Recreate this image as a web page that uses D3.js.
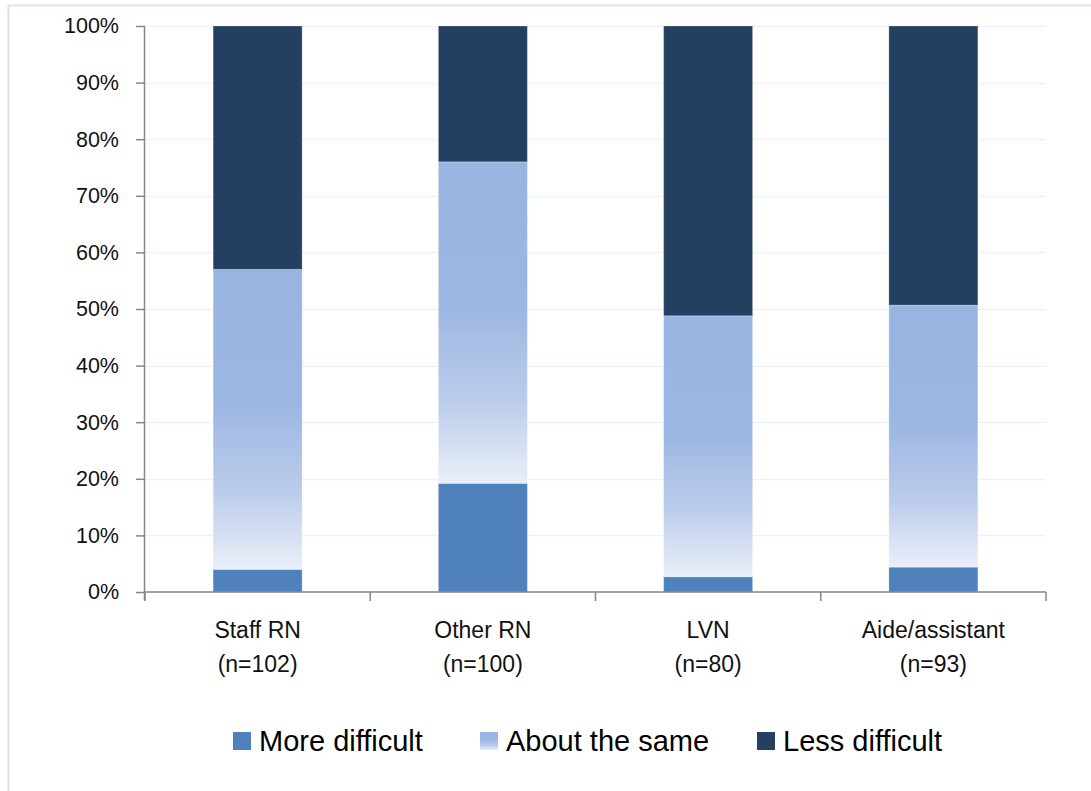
<!DOCTYPE html>
<html>
<head>
<meta charset="utf-8">
<script src="https://cdn.jsdelivr.net/npm/d3@7/dist/d3.min.js"></script>
<style>
  body { margin: 0; background: #fff; }
  svg { display: block; font-family: "Liberation Sans", Arial, sans-serif; }
</style>
</head>
<body>
<div id="chart"></div>
<script>
// data
const categories = ['Staff RN', 'Other RN', 'LVN', 'Aide/assistant'];
const sampleSizes = ['(n=102)', '(n=100)', '(n=80)', '(n=93)'];
const seriesNames = ['More difficult', 'About the same', 'Less difficult'];
const moreDifficult = [4.0, 19.2, 2.7, 4.4];
const aboutSame = [53.0, 56.8, 46.1, 46.3];
const lessDifficult = [43.0, 24.0, 51.2, 49.3];
const yTicks = [0, 10, 20, 30, 40, 50, 60, 70, 80, 90, 100];

const width = 1091, height = 791;
const margin = { top: 26, right: 45, bottom: 199, left: 145 };

const svg = d3.select('#chart')
  .append('svg')
  .attr('width', width)
  .attr('height', height);

// gradient for "About the same"
const defs = svg.append('defs');
const grad = defs.append('linearGradient')
  .attr('id', 'sameGrad')
  .attr('x1', 0).attr('y1', 1).attr('x2', 0).attr('y2', 0);
grad.append('stop').attr('offset', '0%').attr('stop-color', '#eaeff8');
grad.append('stop').attr('offset', '25%').attr('stop-color', '#bccdec');
grad.append('stop').attr('offset', '55%').attr('stop-color', '#9cb6e2');
grad.append('stop').attr('offset', '100%').attr('stop-color', '#9ab4e2');

const colors = ['#4f81bd', 'url(#sameGrad)', '#243f60'];

// outer chart frame
svg.append('rect')
  .attr('x', 8.5).attr('y', 5.5)
  .attr('width', width + 10).attr('height', height + 10)
  .attr('fill', 'none')
  .attr('stroke', '#dbe5f1')
  .attr('stroke-width', 2);

const x = d3.scaleBand()
  .domain(categories)
  .range([margin.left, width - margin.right])
  .paddingInner(0.605)
  .paddingOuter(0.3025);

const y = d3.scaleLinear()
  .domain([0, 100])
  .range([height - margin.bottom, margin.top]);

// gridlines
svg.append('g')
  .selectAll('line')
  .data(yTicks.slice(1))
  .join('line')
  .attr('x1', margin.left)
  .attr('x2', width - margin.right)
  .attr('y1', d => Math.round(y(d)) + 0.5)
  .attr('y2', d => Math.round(y(d)) + 0.5)
  .attr('stroke', '#edf1f8')
  .attr('stroke-width', 1.5);

// stacked bars
const rows = categories.map((c, i) => ({
  cat: c,
  more: moreDifficult[i],
  same: aboutSame[i],
  less: lessDifficult[i]
}));
const stack = d3.stack().keys(['more', 'same', 'less']);
const series = stack(rows);

svg.append('g')
  .selectAll('g')
  .data(series)
  .join('g')
  .attr('fill', (d, i) => colors[i])
  .selectAll('rect')
  .data(d => d)
  .join('rect')
  .attr('x', d => x(d.data.cat))
  .attr('y', d => y(d[1]))
  .attr('width', x.bandwidth())
  .attr('height', d => y(d[0]) - y(d[1]))
  .attr('stroke', 'rgba(255,255,255,0.25)')
  .attr('stroke-width', 1);

// y axis
const yAxis = svg.append('g')
  .attr('transform', `translate(${margin.left},0)`)
  .call(d3.axisLeft(y).tickValues(yTicks).tickFormat(d => d + '%').tickSize(9).tickPadding(17));
yAxis.select('.domain')
  .attr('d', `M-0.5,${margin.top}V${height - margin.bottom + 8}`);
yAxis.selectAll('line').attr('stroke', '#868686').attr('stroke-width', 1.5);
yAxis.select('.domain').attr('stroke', '#868686').attr('stroke-width', 1.5);
yAxis.selectAll('text')
  .attr('fill', '#111')
  .attr('font-size', '21.5px')
  .attr('font-family', '"Liberation Sans", Arial, sans-serif');

// x axis baseline and category dividers
const x0 = height - margin.bottom;
svg.append('line')
  .attr('x1', margin.left).attr('x2', width - margin.right)
  .attr('y1', x0).attr('y2', x0)
  .attr('stroke', '#868686').attr('stroke-width', 1.5);

const step = x.step();
svg.append('g')
  .selectAll('line')
  .data(d3.range(categories.length + 1))
  .join('line')
  .attr('x1', i => margin.left + i * step)
  .attr('x2', i => margin.left + i * step)
  .attr('y1', x0)
  .attr('y2', x0 + 9)
  .attr('stroke', '#868686')
  .attr('stroke-width', 1.5);

// category labels
const labels = svg.append('g')
  .selectAll('text')
  .data(categories)
  .join('text')
  .attr('text-anchor', 'middle')
  .attr('font-size', '23px')
  .attr('fill', '#111');
labels.append('tspan')
  .attr('x', d => x(d) + x.bandwidth() / 2)
  .attr('y', 638)
  .text(d => d);
labels.append('tspan')
  .attr('x', d => x(d) + x.bandwidth() / 2)
  .attr('y', 672)
  .text((d, i) => sampleSizes[i]);

// legend
const legendX = [233, 480, 757];
const legend = svg.append('g')
  .selectAll('g')
  .data(seriesNames)
  .join('g')
  .attr('transform', (d, i) => `translate(${legendX[i]},732)`);
legend.append('rect')
  .attr('width', 18)
  .attr('height', 18)
  .attr('fill', (d, i) => colors[i]);
legend.append('text')
  .attr('x', 26)
  .attr('y', 19)
  .attr('font-size', '29px')
  .attr('fill', '#000')
  .text(d => d);
</script>
</body>
</html>
